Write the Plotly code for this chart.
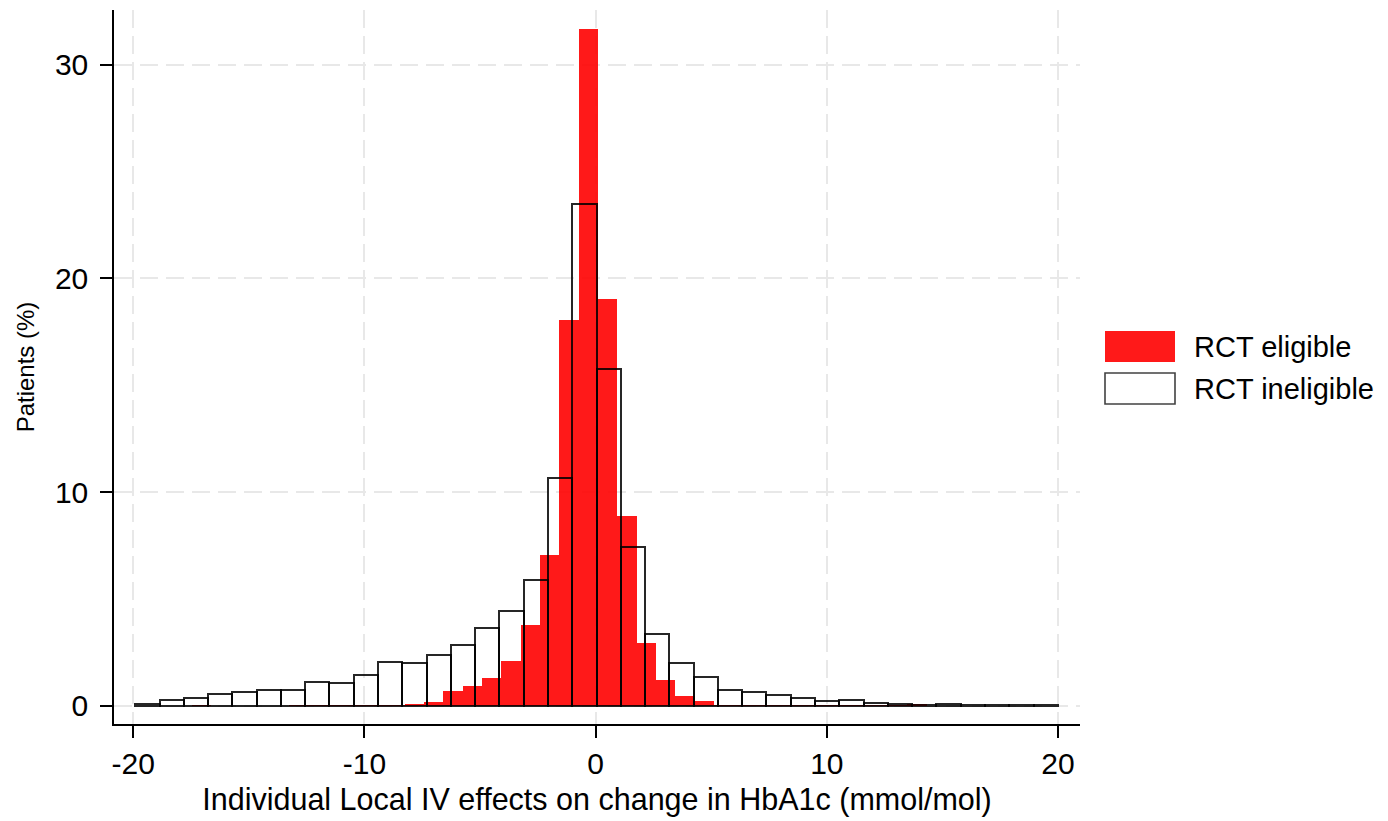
import plotly.graph_objects as go

# ---- Data (percent of patients per bin) ----
# RCT eligible: 38 bins starting at -17.456, width 0.836
elig_start = -17.456
elig_width = 0.836
elig_pct = [0.04, 0.0, 0.0, 0.0, 0.0, 0.02, 0.02, 0.02, 0.02, 0.05,
            0.05, 0.08, 0.17, 0.69, 0.90, 1.30, 2.07, 3.79, 7.07, 18.06,
            31.68, 19.06, 8.86, 2.93, 1.18, 0.47, 0.23, 0.04, 0.02, 0.03,
            0.02, 0.03, 0.01, 0.01, 0.01, 0.01, 0.01, 0.07]

# RCT ineligible: 38 bins starting at -19.91, width 1.05
inel_start = -19.91
inel_width = 1.05
inel_pct = [0.09, 0.27, 0.37, 0.56, 0.62, 0.72, 0.72, 1.09, 1.06, 1.45,
            2.04, 2.00, 2.37, 2.85, 3.64, 4.41, 5.88, 10.67, 23.49, 15.78,
            7.41, 3.37, 1.98, 1.34, 0.72, 0.66, 0.51, 0.36, 0.20, 0.25,
            0.14, 0.09, 0.02, 0.06, 0.01, 0.05, 0.01, 0.01]

x_ticks = [-20, -10, 0, 10, 20]
x_tick_labels = ["-20", "-10", "0", "10", "20"]
y_ticks = [0, 10, 20, 30]
series_names = ["RCT eligible", "RCT ineligible"]
x_title = "Individual Local IV effects on change in HbA1c (mmol/mol)"
y_title = "Patients (%)"

elig_x = [elig_start + elig_width * (i + 0.5) for i in range(len(elig_pct))]
inel_x = [inel_start + inel_width * (i + 0.5) for i in range(len(inel_pct))]

RED = "rgba(255,0,0,0.9)"
FONT = "Arial, Liberation Sans, sans-serif"

fig = go.Figure()
fig.add_trace(go.Bar(x=elig_x, y=elig_pct, width=elig_width, name=series_names[0],
                     marker=dict(color=RED, line=dict(width=0))))
fig.add_trace(go.Bar(x=inel_x, y=inel_pct, width=inel_width, name=series_names[1],
                     marker=dict(color="rgba(0,0,0,0)",
                                 line=dict(color="rgba(0,0,0,0.85)", width=2))))

# plot area in pixels
L, R, T, B = 114, 1080, 10, 724
W, H = R - L, B - T

def px(xp):
    return (xp - L) / W

def py(yp):
    return (B - yp) / H

fig.update_layout(
    width=1388, height=821,
    margin=dict(l=L, r=1388 - R, t=T, b=821 - B),
    paper_bgcolor="white", plot_bgcolor="white",
    barmode="overlay", bargap=0, showlegend=False,
    font=dict(family=FONT, color="black"),
    xaxis=dict(range=[-20.83, 20.95], tickvals=x_ticks, ticktext=x_tick_labels,
               ticks="outside", ticklen=12, tickwidth=1.5, tickcolor="black",
               showline=True, linecolor="black", linewidth=1.5,
               showgrid=True, gridcolor="#e8e8e8", gridwidth=2, griddash="18px,8px",
               zeroline=False, tickfont=dict(size=30),
               title=dict(text=x_title, font=dict(size=30.5), standoff=10)),
    yaxis=dict(range=[-0.86, 32.57], tickvals=y_ticks, ticks="outside",
               ticklen=12, tickwidth=1.5, tickcolor="black",
               showline=True, linecolor="black", linewidth=1.5,
               showgrid=True, gridcolor="#e8e8e8", gridwidth=2, griddash="18px,8px",
               zeroline=False, tickfont=dict(size=30), ticklabelstandoff=6,
               title=dict(text=y_title, font=dict(size=24), standoff=13)),
)

# manual legend
fig.add_shape(type="rect", xref="paper", yref="paper",
              x0=px(1105), x1=px(1175), y0=py(362), y1=py(331),
              fillcolor=RED, line=dict(width=0))
fig.add_shape(type="rect", xref="paper", yref="paper",
              x0=px(1105), x1=px(1175), y0=py(404), y1=py(373),
              fillcolor="white", line=dict(color="rgba(0,0,0,0.75)", width=1.6))
for name, yc in zip(series_names, [347, 389]):
    fig.add_annotation(xref="paper", yref="paper", x=px(1192), y=py(yc),
                       text=name, showarrow=False, xanchor="left", yanchor="middle",
                       font=dict(size=29, family=FONT, color="black"))

fig.write_html("out.html")
